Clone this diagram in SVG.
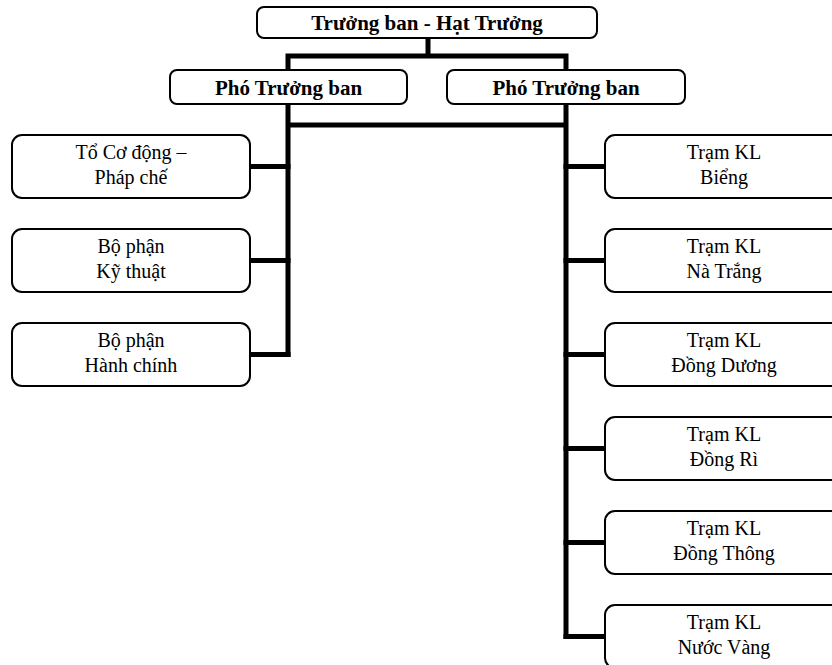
<svg xmlns="http://www.w3.org/2000/svg" width="832" height="665" viewBox="0 0 832 665">
<style>
.box{fill:#fff;stroke:#000;stroke-width:2}
.t{font-family:'Liberation Serif','Times New Roman',Times,serif;font-size:20px;fill:#000;text-anchor:middle}
.b{font-weight:bold;font-size:21px}
.c{fill:none;stroke:#000;stroke-width:5;stroke-linecap:square;stroke-linejoin:miter}
</style>
<rect width="832" height="665" fill="#fff"/>
<g id="connectors">
<path class="c" d="M428 38V56M288 56H566M288 56V70M566 56V70"/>
<path class="c" d="M288 104V354.5M566 104V636.5M288 125H566"/>
<path class="c" d="M250 166.5H288M250 260.5H288M250 354.5H288"/>
<path class="c" d="M566 166.5H605M566 260.5H605M566 354.5H605M566 448.5H605M566 542.5H605M566 636.5H605"/>
</g>
<g id="n-top"><rect class="box" x="257" y="7" width="340" height="31" rx="7"/><text class="t b" x="427" y="29.5" font-family="Liberation Serif, serif">Trưởng ban - Hạt Trưởng</text></g>
<g id="n-pho1"><rect class="box" x="170" y="70" width="237" height="34" rx="7"/><text class="t b" x="288.5" y="94.5" font-family="Liberation Serif, serif">Phó Trưởng ban</text></g>
<g id="n-pho2"><rect class="box" x="447" y="70" width="238" height="34" rx="7"/><text class="t b" x="566" y="94.5" font-family="Liberation Serif, serif">Phó Trưởng ban</text></g>
<g id="n-l1"><rect class="box" x="12" y="135" width="238" height="63" rx="10"/><text class="t" x="131" y="158.5">Tổ Cơ động –</text><text class="t" x="131" y="183.5">Pháp chế</text></g>
<g id="n-l2"><rect class="box" x="12" y="229" width="238" height="63" rx="10"/><text class="t" x="131" y="252.5">Bộ phận</text><text class="t" x="131" y="277.5">Kỹ thuật</text></g>
<g id="n-l3"><rect class="box" x="12" y="323" width="238" height="63" rx="10"/><text class="t" x="131" y="346.5">Bộ phận</text><text class="t" x="131" y="371.5">Hành chính</text></g>
<g id="n-r1"><rect class="box" x="605" y="135" width="238" height="63" rx="10"/><text class="t" x="724" y="158.5">Trạm KL</text><text class="t" x="724" y="183.5">Biểng</text></g>
<g id="n-r2"><rect class="box" x="605" y="229" width="238" height="63" rx="10"/><text class="t" x="724" y="252.5">Trạm KL</text><text class="t" x="724" y="277.5">Nà Trắng</text></g>
<g id="n-r3"><rect class="box" x="605" y="323" width="238" height="63" rx="10"/><text class="t" x="724" y="346.5">Trạm KL</text><text class="t" x="724" y="371.5">Đồng Dương</text></g>
<g id="n-r4"><rect class="box" x="605" y="417" width="238" height="63" rx="10"/><text class="t" x="724" y="440.5">Trạm KL</text><text class="t" x="724" y="465.5">Đồng Rì</text></g>
<g id="n-r5"><rect class="box" x="605" y="511" width="238" height="63" rx="10"/><text class="t" x="724" y="534.5">Trạm KL</text><text class="t" x="724" y="559.5">Đồng Thông</text></g>
<g id="n-r6"><rect class="box" x="605" y="605" width="238" height="63" rx="10"/><text class="t" x="724" y="628.5">Trạm KL</text><text class="t" x="724" y="653.5">Nước Vàng</text></g>
</svg>
